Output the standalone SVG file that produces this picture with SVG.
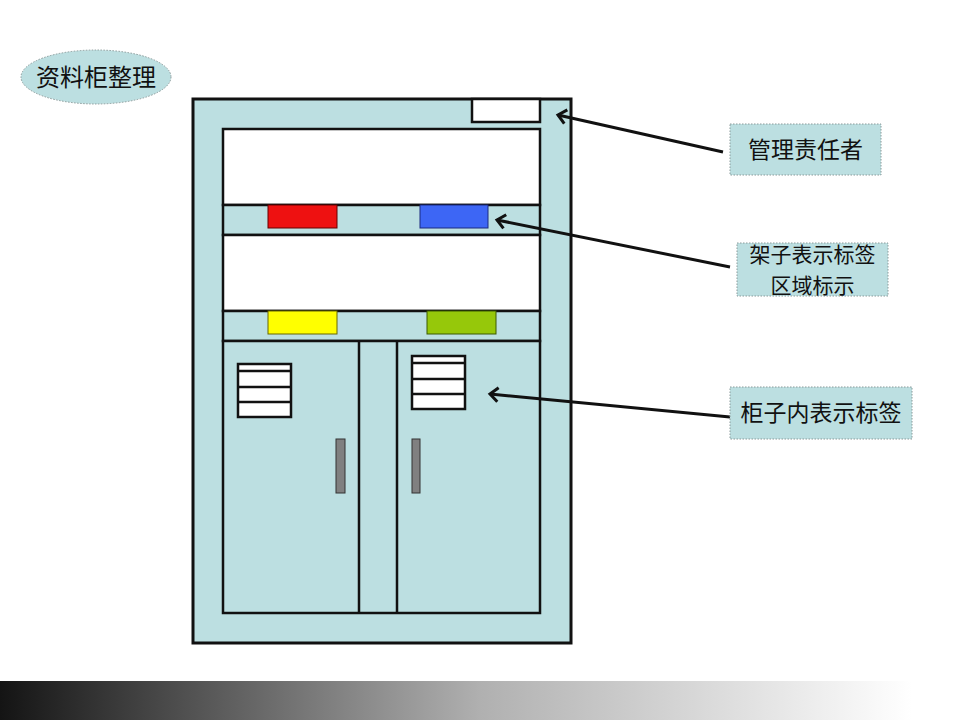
<svg xmlns="http://www.w3.org/2000/svg" width="960" height="720" viewBox="0 0 960 720">
<defs>
<linearGradient id="bar" x1="0" y1="0" x2="1" y2="0">
<stop offset="0" stop-color="#141414"/>
<stop offset="0.5" stop-color="#b0b0b0"/>
<stop offset="0.95" stop-color="#ffffff"/>
</linearGradient>
<marker id="arr" viewBox="0 0 20 20" refX="11" refY="10" markerWidth="20" markerHeight="20" markerUnits="userSpaceOnUse" orient="auto" overflow="visible">
<path d="M3,3 L11,10 L3,17" fill="none" stroke="#111" stroke-width="3"/>
</marker>
<style>
.cab{fill:#bcdfe1;stroke:#111;stroke-width:3}
.wh{fill:#fff;stroke:#111;stroke-width:2.5}
.ln{stroke:#111;stroke-width:2.5}
.lbl{fill:#bcdfe1;stroke:#8a9a9a;stroke-width:1;stroke-dasharray:1.5 1.5}
.t{font-family:"Noto Sans CJK SC","Noto Sans CJK JP",sans-serif;font-size:23px;fill:#111;text-anchor:middle}
.con{stroke:#111;stroke-width:3;fill:none}
</style>
</defs>
<rect width="960" height="720" fill="#fff"/>
<rect x="0" y="681" width="960" height="39" fill="url(#bar)"/>
<g id="title">
<ellipse cx="96" cy="77" rx="75" ry="27" fill="#bcdfe1" stroke="#8a9a9a" stroke-width="1" stroke-dasharray="1.5 1.5"/>
<text class="t" x="96" y="86" style="font-size:24px">资料柜整理</text>
</g>
<g id="cabinet">
<rect class="cab" x="193" y="99" width="378" height="544"/>
<rect class="wh" x="472" y="99" width="68" height="23"/>
<rect class="wh" x="223" y="129" width="317" height="76"/>
<rect class="cab" x="223" y="205" width="317" height="30" style="stroke-width:2.5"/>
<rect x="268" y="205" width="69" height="23" fill="#ee1111" stroke="#600" stroke-width="1"/>
<rect x="420" y="205" width="68" height="23" fill="#3d66f5" stroke="#1a2a80" stroke-width="1"/>
<rect class="wh" x="223" y="235" width="317" height="76"/>
<rect class="cab" x="223" y="311" width="317" height="30" style="stroke-width:2.5"/>
<rect x="268" y="311" width="69" height="23" fill="#ffff00" stroke="#666600" stroke-width="1"/>
<rect x="427" y="311" width="69" height="23" fill="#96c80a" stroke="#3a5a00" stroke-width="1"/>
<rect class="cab" x="223" y="341" width="317" height="272" style="stroke-width:2.5"/>
<line class="ln" x1="359" y1="341" x2="359" y2="613"/>
<line class="ln" x1="397" y1="341" x2="397" y2="613"/>
<rect class="wh" x="238" y="364" width="53" height="53"/>
<line class="ln" x1="238" y1="371" x2="291" y2="371"/>
<line class="ln" x1="238" y1="387" x2="291" y2="387"/>
<line class="ln" x1="238" y1="402" x2="291" y2="402"/>
<rect class="wh" x="412" y="356" width="53" height="53"/>
<line class="ln" x1="412" y1="363" x2="465" y2="363"/>
<line class="ln" x1="412" y1="379" x2="465" y2="379"/>
<line class="ln" x1="412" y1="394" x2="465" y2="394"/>
<rect x="336" y="439" width="9" height="54" fill="#808080" stroke="#333" stroke-width="1"/>
<rect x="412" y="439" width="8" height="54" fill="#808080" stroke="#333" stroke-width="1"/>
</g>
<g id="connectors">
<line class="con" x1="723" y1="152" x2="558" y2="115" marker-end="url(#arr)"/>
<line class="con" x1="730" y1="267" x2="497" y2="220" marker-end="url(#arr)"/>
<line class="con" x1="730" y1="417" x2="490" y2="394" marker-end="url(#arr)"/>
</g>
<g id="n1">
<rect class="lbl" x="730" y="124" width="151" height="51"/>
<text class="t" x="805.5" y="158">管理责任者</text>
</g>
<g id="n2">
<rect class="lbl" x="737" y="243" width="151" height="53"/>
<text class="t" x="812.5" y="262" style="font-size:21px">架子表示标签</text>
<text class="t" x="812.5" y="293" style="font-size:21px">区域标示</text>
</g>
<g id="n3">
<rect class="lbl" x="730" y="387" width="182" height="52"/>
<text class="t" x="821" y="421">柜子内表示标签</text>
</g>
</svg>
